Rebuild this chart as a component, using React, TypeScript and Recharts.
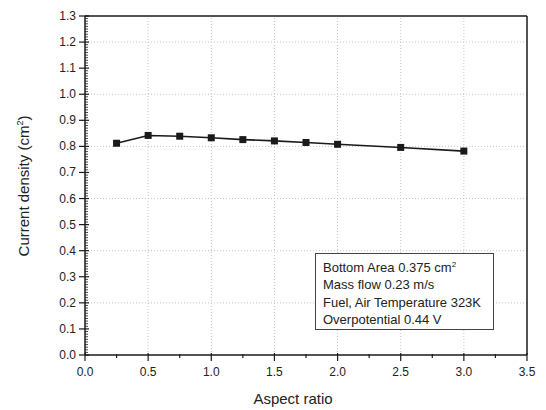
import { LineChart, Line, XAxis, YAxis, ReferenceLine, Label } from 'recharts';

const aspectRatio = [0.25, 0.5, 0.75, 1.0, 1.25, 1.5, 1.75, 2.0, 2.5, 3.0];
const currentDensity = [0.812, 0.842, 0.839, 0.833, 0.826, 0.821, 0.815, 0.808, 0.796, 0.782];

const xTicks = [0, 0.25, 0.5, 0.75, 1.0, 1.25, 1.5, 1.75, 2.0, 2.25, 2.5, 2.75, 3.0, 3.25, 3.5];
// minor ticks every 0.01, labels on every tenth
const yTicks = Array.from({ length: 131 }, (_, i) => i / 100);
const gridX = [0.5, 1.0, 1.5, 2.0, 2.5, 3.0];
const gridY = [0.2, 0.4, 0.6, 0.8, 1.0, 1.2];
const notes = [
  'Mass flow 0.23 m/s',
  'Fuel, Air Temperature 323K',
  'Overpotential 0.44 V',
];

const data = aspectRatio.map((x, i) => ({ x, y: currentDensity[i] }));

const FONT = '"Liberation Sans", Arial, sans-serif';
const INK = '#1a1a1a';

const XTick = ({ x, y, payload }: any) => {
  const v = payload.value;
  const major = Math.abs(v * 2 - Math.round(v * 2)) < 1e-6;
  return (
    <g>
      <line x1={x} x2={x} y1={major ? y - 2 : y - 1} y2={major ? y + 6 : y + 3} stroke={INK} strokeWidth={1.2} />
      {major && (
        <text x={x} y={y + 21} textAnchor="middle" fontSize={12} fill="#222" fontFamily={FONT}>
          {v.toFixed(1)}
        </text>
      )}
    </g>
  );
};

const YTick = ({ x, y, payload }: any) => {
  const v = payload.value;
  const major = Math.abs(v * 10 - Math.round(v * 10)) < 1e-6;
  if (!major) {
    return <line x1={x} x2={x + 3} y1={y} y2={y} stroke={INK} strokeWidth={0.8} />;
  }
  return (
    <g>
      <line x1={x - 6} x2={x + 4} y1={y} y2={y} stroke={INK} strokeWidth={1.2} />
      <text x={x - 9} y={y + 4} textAnchor="end" fontSize={12} fill="#222" fontFamily={FONT}>
        {v.toFixed(1)}
      </text>
    </g>
  );
};

const SquareDot = ({ cx, cy }: any) => (
  <rect x={cx - 3.5} y={cy - 3.5} width={7} height={7} fill={INK} />
);

export default function App() {
  return (
    <div style={{ position: 'absolute', left: 0, top: 0, width: 546, height: 410, background: '#fff' }}>
      <LineChart width={546} height={410} data={data} margin={{ top: 16, right: 19, left: 0, bottom: 0 }}>
        {gridX.map((g) => (
          <ReferenceLine key={'gx' + g} x={g} stroke="#c4c4c4" strokeDasharray="1 2" />
        ))}
        {gridY.map((g) => (
          <ReferenceLine key={'gy' + g} y={g} stroke="#c4c4c4" strokeDasharray="1 2" />
        ))}
        <XAxis
          dataKey="x"
          type="number"
          domain={[0, 3.5]}
          ticks={xTicks}
          interval={0}
          tickSize={0}
          tickMargin={0}
          tickLine={false}
          tick={<XTick />}
          axisLine={{ stroke: INK, strokeWidth: 1.5 }}
          height={55}
        >
          <Label
            content={() => (
              <text x={293} y={404} textAnchor="middle" fontSize={15} fill="#222" fontFamily={FONT}>
                Aspect ratio
              </text>
            )}
          />
        </XAxis>
        <YAxis
          type="number"
          domain={[0, 1.3]}
          ticks={yTicks}
          interval={0}
          tickSize={0}
          tickMargin={0}
          tickLine={false}
          tick={<YTick />}
          axisLine={{ stroke: INK, strokeWidth: 1.5 }}
          width={85}
        >
          <Label
            content={() => (
              <text
                x={29}
                y={186}
                transform="rotate(-90, 29, 186)"
                textAnchor="middle"
                fontSize={15}
                fill="#222"
                fontFamily={FONT}
              >
                Current density (cm
                <tspan dy={-6} fontSize={9}>2</tspan>
                <tspan dy={6}>)</tspan>
              </text>
            )}
          />
        </YAxis>
        <ReferenceLine x={3.5} stroke={INK} strokeWidth={1.5} />
        <ReferenceLine y={1.3} stroke={INK} strokeWidth={1.5} />
        <Line
          dataKey="y"
          stroke={INK}
          strokeWidth={1.6}
          dot={<SquareDot />}
          activeDot={false}
          isAnimationActive={false}
        />
      </LineChart>
      <div
        style={{
          position: 'absolute',
          left: 315,
          top: 253,
          width: 179,
          height: 77,
          border: '1px solid #444',
          background: '#fff',
          fontFamily: FONT,
          fontSize: 13,
          color: '#222',
          lineHeight: '17.3px',
          padding: '5px 0 0 7px',
          boxSizing: 'border-box',
          whiteSpace: 'nowrap',
        }}
      >
        <div>
          Bottom Area 0.375 cm<sup style={{ fontSize: 8, lineHeight: 0 }}>2</sup>
        </div>
        {notes.map((n) => (
          <div key={n}>{n}</div>
        ))}
      </div>
    </div>
  );
}
